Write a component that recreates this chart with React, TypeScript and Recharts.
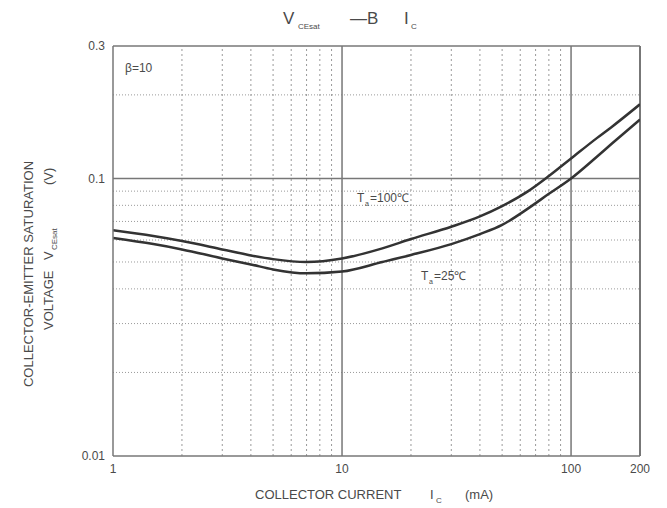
import React from 'react';
import {
  LineChart,
  Line,
  XAxis,
  YAxis,
  ReferenceLine,
} from 'recharts';

// Collector current (mA)
const currents = [1, 1.5, 2, 3, 4, 5, 7, 10, 15, 20, 30, 40, 50, 65, 80, 100, 130, 150, 200];
// V_CEsat (V) at Ta=100C and Ta=25C
const vHot = [0.065, 0.062, 0.0595, 0.0555, 0.0528, 0.0512, 0.05, 0.0515, 0.056, 0.0605, 0.067, 0.073, 0.0795, 0.09, 0.102, 0.118, 0.14, 0.153, 0.185];
const vRoom = [0.061, 0.058, 0.0555, 0.0515, 0.049, 0.047, 0.0455, 0.0462, 0.05, 0.053, 0.058, 0.063, 0.068, 0.078, 0.088, 0.1, 0.12, 0.133, 0.163];

const xTicks = [1, 10, 100, 200];
const yTicks = [0.01, 0.1, 0.3];
const xMinorGrid = [2, 3, 4, 5, 6, 7, 8, 9, 20, 30, 40, 50, 60, 70, 80, 90];
const xMajorGrid = [10, 100];
const yMinorGrid = [0.02, 0.03, 0.04, 0.05, 0.06, 0.07, 0.08, 0.09, 0.2];
const yMajorGrid = [0.1];

const data = currents.map((ic, i) => ({ ic, hot: vHot[i], room: vRoom[i] }));

const textColor = '#4a4a4a';
const font = '"Liberation Sans", Arial, sans-serif';

export default function App() {
  return (
    <div style={{ position: 'absolute', left: 0, top: 0, width: 667, height: 508, background: '#fff' }}>
      <LineChart
        width={667}
        height={508}
        data={data}
        margin={{ top: 46, right: 27, left: 0, bottom: 0 }}
      >
        {xMinorGrid.map((v) => (
          <ReferenceLine key={'xm' + v} x={v} stroke="#9a9a9a" strokeDasharray="2 3" />
        ))}
        {yMinorGrid.map((v) => (
          <ReferenceLine key={'ym' + v} y={v} stroke="#9a9a9a" strokeDasharray="1 2" />
        ))}
        {xMajorGrid.map((v) => (
          <ReferenceLine key={'xM' + v} x={v} stroke="#777" strokeWidth={1.5} />
        ))}
        {yMajorGrid.map((v) => (
          <ReferenceLine key={'yM' + v} y={v} stroke="#777" strokeWidth={1.5} />
        ))}
        <ReferenceLine x={200} stroke="#777" strokeWidth={2} />
        <ReferenceLine y={0.3} stroke="#777" strokeWidth={1.5} />
        <XAxis
          dataKey="ic"
          type="number"
          scale="log"
          domain={[1, 200]}
          ticks={xTicks}
          allowDataOverflow
          height={52}
          tickLine={false}
          axisLine={{ stroke: '#777', strokeWidth: 1.5 }}
          tick={{ fill: textColor, fontSize: 12, fontFamily: font }}
        />
        <YAxis
          type="number"
          scale="log"
          domain={[0.01, 0.3]}
          ticks={yTicks}
          allowDataOverflow
          width={113}
          tickLine={false}
          axisLine={{ stroke: '#777', strokeWidth: 1.5 }}
          tick={{ fill: textColor, fontSize: 12, fontFamily: font }}
        />
        <Line
          dataKey="hot"
          type="monotone"
          stroke="#333"
          strokeWidth={2.5}
          dot={false}
          isAnimationActive={false}
        />
        <Line
          dataKey="room"
          type="monotone"
          stroke="#333"
          strokeWidth={2.5}
          dot={false}
          isAnimationActive={false}
        />
      </LineChart>
      <svg
        width={667}
        height={508}
        style={{ position: 'absolute', left: 0, top: 0, pointerEvents: 'none' }}
        fontFamily={font}
        fill={textColor}
      >
        <text x={283} y={24} fontSize={17}>V</text>
        <text x={298} y={29} fontSize={8}>CEsat</text>
        <text x={350} y={24} fontSize={17}>—B</text>
        <text x={404} y={24} fontSize={17}>I</text>
        <text x={411} y={29} fontSize={8}>C</text>

        <text x={125} y={72} fontSize={12}>β=10</text>

        <text x={357} y={202} fontSize={12}>T</text>
        <text x={365} y={206} fontSize={7}>a</text>
        <text x={370} y={202} fontSize={12}>=100℃</text>

        <text x={421} y={280} fontSize={12}>T</text>
        <text x={429} y={284} fontSize={7}>a</text>
        <text x={434} y={280} fontSize={12}>=25℃</text>

        <text x={255} y={499} fontSize={13}>COLLECTOR CURRENT</text>
        <text x={430} y={499} fontSize={13}>I</text>
        <text x={436} y={503} fontSize={8}>C</text>
        <text x={465} y={499} fontSize={13}>(mA)</text>

        <g transform="translate(33,274) rotate(-90)">
          <text x={0} y={0} fontSize={13} textAnchor="middle">COLLECTOR-EMITTER SATURATION</text>
        </g>
        <g transform="translate(53,330) rotate(-90)">
          <text x={0} y={0} fontSize={13}>VOLTAGE</text>
          <text x={70} y={0} fontSize={13}>V</text>
          <text x={80} y={4} fontSize={8}>CEsat</text>
          <text x={145} y={0} fontSize={13}>(V)</text>
        </g>
      </svg>
    </div>
  );
}
